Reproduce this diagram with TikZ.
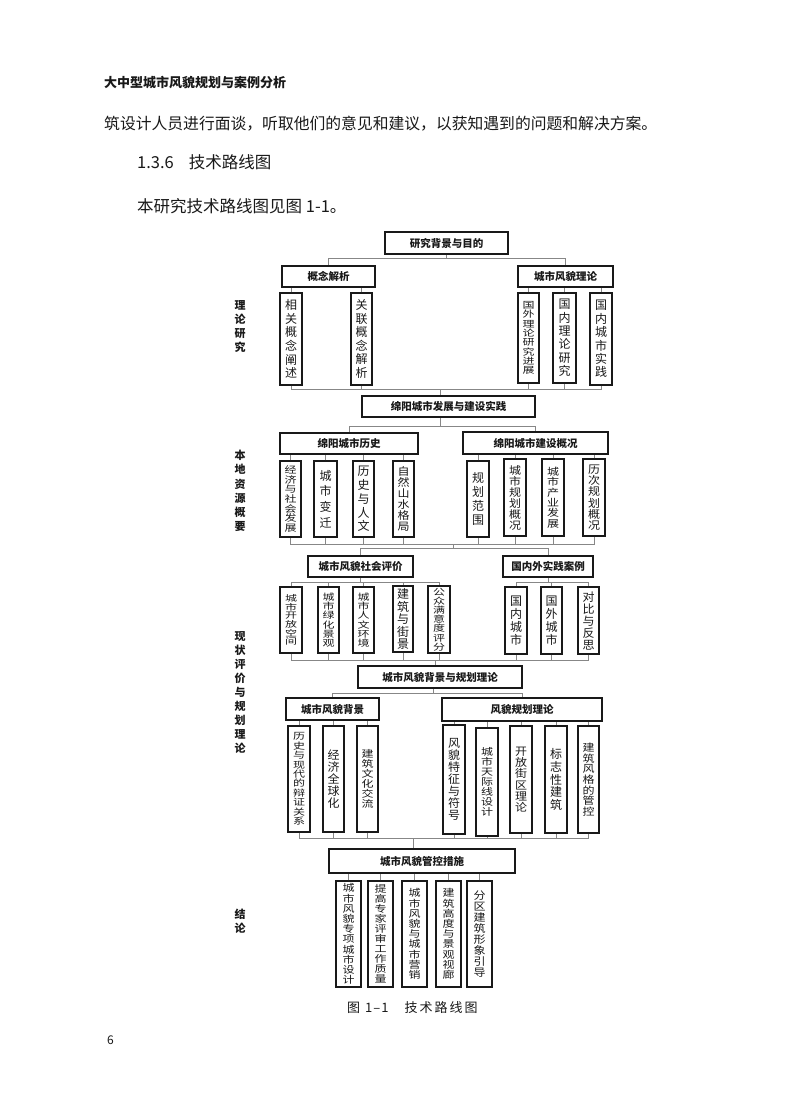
\documentclass[tikz,border=0pt]{standalone}
\usepackage{fontspec}
\setmainfont{Noto Sans CJK SC}
\usepackage{graphicx}
\usetikzlibrary{calc}
\definecolor{lnc}{RGB}{135,135,135}
\definecolor{ink}{RGB}{25,25,25}
\ExplSyntaxOn
\NewDocumentCommand\stk{mm}{
  \tl_set:Nx \l_tmpb_tl { \fp_eval:n { min(1, (#1)/12.5) } }
  \seq_clear:N \l_tmpa_seq
  \tl_map_inline:nn {#2} { \seq_put_right:Nx \l_tmpa_seq { \exp_not:N \makebox[0pt]{ \exp_not:N \scalebox{1}[\l_tmpb_tl]{ \exp_not:n {##1} } } } }
  \seq_use:Nn \l_tmpa_seq { \par }
}
\ExplSyntaxOff
\tikzset{
  ln/.style={draw=lnc, line width=0.8pt},
  tbox/.style={draw=ink, line width=1.5pt, inner sep=0pt, text=ink, font=\fontsize{10.5}{12}\selectfont\bfseries},
  vbox/.style={draw=ink, line width=1.5pt, inner sep=0pt, text=ink, font=\fontsize{12}{14}\selectfont},
  side/.style={inner sep=0pt, anchor=north, text=ink, font=\fontsize{11}{14}\selectfont\bfseries},
  txt/.style={inner sep=0pt, anchor=west, text=ink},
}
\newcommand\tb[6]{\node[tbox, minimum width={#4-#2}, minimum height={#5-#3}] (#1) at ({(#2+#4)/2},{(#3+#5)/2}) {#6};}
\newcommand\vb[7]{\node[vbox, minimum width={#4-#2}, minimum height={#5-#3}] (#1) at ({(#2+#4)/2},{(#3+#5)/2}) {\parbox{14pt}{\centering\baselineskip=#6pt\lineskiplimit=-100pt\lineskip=0pt\stk{#6}{#7}\par}};}
\newcommand\sd[5]{\node[side] (#1) at (#2,#3) {\parbox[t]{14pt}{\centering\baselineskip=#4pt\lineskiplimit=-100pt\lineskip=0pt\stk{20}{#5}\par}};}
\begin{document}
\begin{tikzpicture}[x=1pt,y=-1pt]
\fill[white] (0,0) rectangle (800,1118);
\useasboundingbox (0,0) rectangle (800,1118);
% page text
\node[txt, font=\fontsize{13}{15}\selectfont\bfseries] (hd) at (104,83) {大中型城市风貌规划与案例分析};
\node[txt, font=\fontsize{15.8}{18}\selectfont] (p1) at (104,124) {筑设计人员进行面谈，听取他们的意见和建议，以获知遇到的问题和解决方案。};
\node[txt, font=\fontsize{16.5}{18}\selectfont] (h2) at (137,162) {1.3.6\hspace{15pt}技术路线图};
\node[txt, font=\fontsize{16.5}{18}\selectfont] (p2) at (137,206) {本研究技术路线图见图 1-1。};
\node[txt, font=\fontsize{13}{15}\selectfont] (cap) at (347,1008) {图\hspace{5pt}1\kern1pt–\kern1pt1\hspace{16pt}技\kern2pt术\kern2pt路\kern2pt线\kern2pt图};
\node[txt, font=\fontsize{12}{14}\selectfont] (pg) at (107,1040) {6};
% side labels
\sd{s1}{240}{300}{14}{理论研究}
\sd{s2}{240}{450}{14.2}{本地资源概要}
\sd{s3}{240}{631}{14.1}{现状评价与规划理论}
\sd{s4}{240}{909}{14}{结论}
% level 1
\tb{R}{385}{232}{508}{254}{研究背景与目的}
\tb{A1}{282}{266}{375}{287}{概念解析}
\tb{A2}{518}{266}{613}{287}{城市风貌理论}
\vb{a11}{280}{293}{302}{385}{13.6}{相关概念阐述}
\vb{a12}{351}{293}{372}{385}{13.6}{关联概念解析}
\vb{a21}{518}{293}{539}{383}{9.3}{国外理论研究进展}
\vb{a22}{553}{293}{576}{383}{13.4}{国内理论研究}
\vb{a23}{590}{293}{612}{385}{13.4}{国内城市实践}
% level 2
\tb{B}{362}{396}{535}{417}{绵阳城市发展与建设实践}
\tb{B1}{280}{433}{418}{454}{绵阳城市历史}
\tb{B2}{463}{432}{608}{454}{绵阳城市建设概况}
\vb{b11}{280}{461}{301}{537}{9.7}{经济与社会发展}
\vb{b12}{314}{461}{337}{537}{15.6}{城市变迁}
\vb{b13}{353}{461}{374}{537}{13.75}{历史与人文}
\vb{b14}{393}{461}{414}{537}{11}{自然山水格局}
\vb{b21}{467}{461}{489}{537}{14}{规划范围}
\vb{b22}{504}{459}{526}{536}{11}{城市规划概况}
\vb{b23}{542}{459}{564}{536}{10.3}{城市产业发展}
\vb{b24}{583}{459}{605}{536}{11.3}{历次规划概况}
% level 3
\tb{C1}{308}{556}{413}{577}{城市风貌社会评价}
\tb{C2}{503}{556}{593}{577}{国内外实践案例}
\vb{c11}{280}{587}{302}{653}{8.7}{城市开放空间}
\vb{c12}{318}{587}{339}{653}{9.3}{城市绿化景观}
\vb{c13}{353}{587}{374}{653}{9.3}{城市人文环境}
\vb{c14}{393}{586}{413}{652}{12.5}{建筑与街景}
\vb{c15}{428}{586}{450}{653}{9.2}{公众满意度评分}
\vb{c21}{505}{587}{527}{654}{12.8}{国内城市}
\vb{c22}{541}{587}{562}{654}{12.8}{国外城市}
\vb{c23}{578}{587}{599}{654}{12}{对比与反思}
% level 4
\tb{D}{358}{666}{522}{688}{城市风貌背景与规划理论}
\tb{D1}{286}{698}{379}{720}{城市风貌背景}
\tb{D2}{442}{698}{602}{721}{风貌规划理论}
\vb{d11}{288}{726}{310}{832}{9.4}{历史与现代的辩证关系}
\vb{d12}{323}{726}{344}{832}{12}{经济全球化}
\vb{d13}{357}{726}{378}{832}{10}{建筑文化交流}
\vb{d21}{443}{725}{465}{834}{12}{风貌特征与符号}
\vb{d22}{476}{728}{498}{836}{10}{城市天际线设计}
\vb{d23}{510}{726}{532}{833}{11.3}{开放街区理论}
\vb{d24}{545}{726}{567}{833}{12.9}{标志性建筑}
\vb{d25}{578}{726}{599}{833}{10.6}{建筑风格的管控}
% level 5
\tb{E}{329}{849}{515}{873}{城市风貌管控措施}
\vb{e1}{336}{881}{361}{987}{10.2}{城市风貌专项城市设计}
\vb{e2}{368}{881}{393}{987}{10}{提高专家评审工作质量}
\vb{e3}{402}{881}{427}{987}{10.2}{城市风貌与城市营销}
\vb{e4}{436}{881}{461}{987}{10.2}{建筑高度与景观视廊}
\vb{e5}{467}{881}{492}{987}{11}{分区建筑形象引导}
% connectors level 1
\draw[ln] (R.south) -- ++(0,4) -| (A1.north);
\draw[ln] (R.south) -- ++(0,4) -| (A2.north);
\foreach \c in {a11,a12} \draw[ln] (\c.north) -- (\c.north |- A1.south);
\foreach \c in {a21,a22,a23} \draw[ln] (\c.north) -- (\c.north |- A2.south);
\coordinate (m1) at (440,389);
\foreach \c in {a11,a12,a21,a22,a23} \draw[ln] (\c.south) |- (m1);
\draw[ln] (m1) -- (m1 |- B.north);
% level 2
\coordinate (f1) at (440,426);
\draw[ln] (f1 |- B.south) -- (f1) -| (B1.north);
\draw[ln] (f1) -| (B2.north);
\foreach \c in {b11,b12,b13,b14} \draw[ln] (\c.north) -- (\c.north |- B1.south);
\foreach \c in {b21,b22,b23,b24} \draw[ln] (\c.north) -- (\c.north |- B2.south);
\coordinate (m2) at (453,544);
\coordinate (f2) at (453,548);
\foreach \c in {b11,b12,b13,b14,b21,b22,b23,b24} \draw[ln] (\c.south) |- (m2);
\draw[ln] (m2) -- (f2);
\draw[ln] (f2) -| (C1.north);
\draw[ln] (f2) -| (C2.north);
% level 3
\foreach \c in {c11,c12,c13,c14,c15} \draw[ln] (C1.south) -- ++(0,5) -| (\c.north);
\foreach \c in {c21,c22,c23} \draw[ln] (C2.south) -- ++(0,5) -| (\c.north);
\coordinate (m3) at (435,660);
\foreach \c in {c11,c12,c13,c14,c15,c21,c22,c23} \draw[ln] (\c.south) |- (m3);
\draw[ln] (m3) -- (m3 |- D.north);
% level 4
\coordinate (f3) at (433,693);
\draw[ln] (f3 |- D.south) -- (f3) -| (D1.north);
\draw[ln] (f3) -| (D2.north);
\foreach \c in {d11,d12,d13} \draw[ln] (\c.north) -- (\c.north |- D1.south);
\foreach \c in {d21,d22,d23,d24,d25} \draw[ln] (\c.north) -- (\c.north |- D2.south);
\coordinate (m4) at (413,838);
\foreach \c in {d11,d12,d13,d21,d22,d23,d24,d25} \draw[ln] (\c.south) |- (m4);
\draw[ln] (m4) -- (m4 |- E.north);
% level 5
\foreach \c in {e1,e2,e3,e4,e5} \draw[ln] (\c.north) -- (\c.north |- E.south);
\end{tikzpicture}
\end{document}
